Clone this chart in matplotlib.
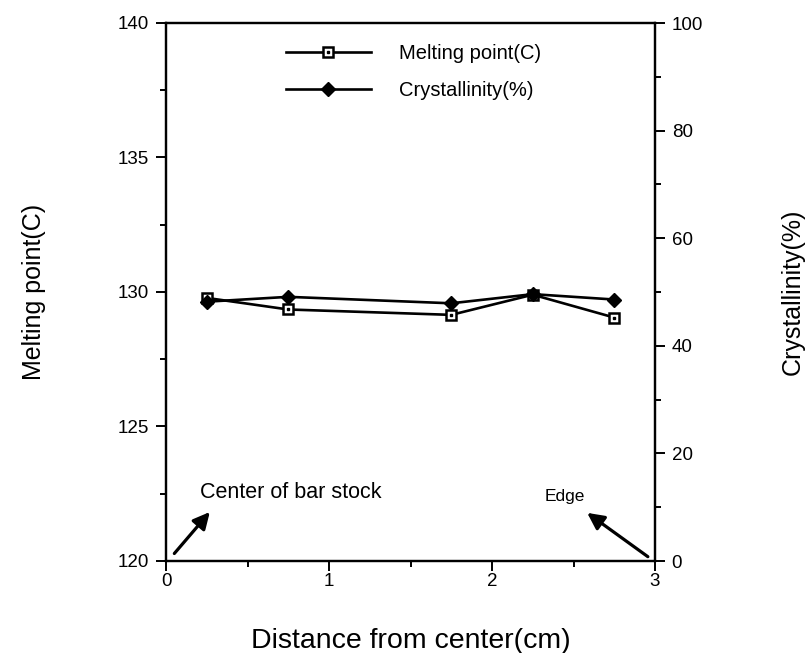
import matplotlib.pyplot as plt
from matplotlib.legend_handler import HandlerTuple

plt.rcParams['font.family'] = ['Liberation Sans', 'DejaVu Sans']

# ------------------ Data ------------------
distance = [0.25, 0.75, 1.75, 2.25, 2.75]
melting_point = [129.78, 129.35, 129.15, 129.9, 129.05]
crystallinity = [48.2, 49.1, 47.9, 49.6, 48.6]

# ------------------ Figure ------------------
fig = plt.figure(figsize=(8.07, 6.53), dpi=100)
ax = fig.add_axes([166 / 807, 1 - 561 / 653, (655 - 166) / 807, (561 - 23) / 653])
ax2 = ax.twinx()

mp_line, = ax.plot(distance, melting_point, color='black', lw=1.9, marker='s',
                   markersize=7.5, markerfacecolor='white', markeredgecolor='black',
                   markeredgewidth=1.8, zorder=3)
mp_dot, = ax.plot(distance, melting_point, ls='none', marker='s', markersize=1.8,
                  color='black', zorder=4)
cr_line, = ax2.plot(distance, crystallinity, color='black', lw=1.9, marker='D',
                    markersize=7, markerfacecolor='black', zorder=3)

# axes limits and ticks
ax.set_xlim(0, 3)
ax.set_ylim(120, 140)
ax2.set_ylim(0, 100)
ax.set_xticks([0, 1, 2, 3])
ax.set_xticks([0.5, 1.5, 2.5], minor=True)
ax.set_yticks([120, 125, 130, 135, 140])
ax.set_yticks([122.5, 127.5, 132.5, 137.5], minor=True)
ax2.set_yticks([0, 20, 40, 60, 80, 100])
ax2.set_yticks([10, 30, 50, 70, 90], minor=True)

for a in (ax, ax2):
    a.tick_params(which='major', direction='out', length=7, width=1.4, labelsize=13.5, pad=5)
    a.tick_params(which='minor', direction='out', length=4, width=1.4)
    for s in a.spines.values():
        s.set_linewidth(1.6)
ax.tick_params(axis='x', pad=2)

ax.set_xlabel("Distance from center(cm)", fontsize=20.5, labelpad=27)
ax.set_ylabel("Melting point(C)", fontsize=18, labelpad=52)
ax2.set_ylabel("Crystallinity(%)", fontsize=18, labelpad=56)

# ------------------ Annotations ------------------
ax.annotate("", xy=(0.28, 121.9), xytext=(0.04, 120.2),
            arrowprops=dict(arrowstyle='-|>,head_length=1.0,head_width=0.5',
                            color='black', lw=2.3))
ax.text(0.21, 122.55, "Center of bar stock", fontsize=15.5, va='center', ha='left')

ax.annotate("", xy=(2.57, 121.85), xytext=(2.97, 120.1),
            arrowprops=dict(arrowstyle='-|>,head_length=1.0,head_width=0.5',
                            color='black', lw=2.3))
ax.text(2.32, 122.4, "Edge", fontsize=12.5, va='center', ha='left')

# ------------------ Legend ------------------
ax2.legend([(mp_line, mp_dot), cr_line], ["Melting point(C)", "Crystallinity(%)"],
           handler_map={tuple: HandlerTuple(ndivide=1)},
           loc='upper left', bbox_to_anchor=((286 - 166) / 489, 1 - (44 - 23) / 538),
           frameon=False, fontsize=14.5, handlelength=4.2, handletextpad=1.4,
           labelspacing=0.9, borderpad=0, borderaxespad=0)

fig.savefig("out.png", dpi=100)
